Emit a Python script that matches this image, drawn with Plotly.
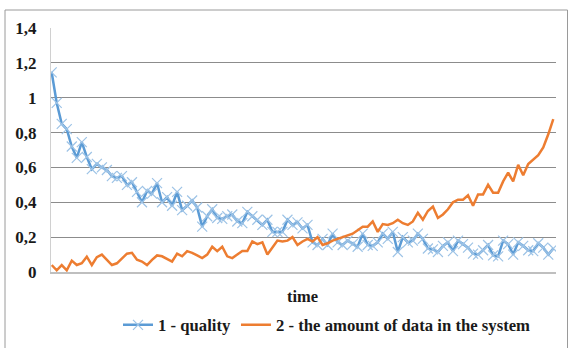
import plotly.graph_objects as go

# time steps (categories along the x axis)
time_steps = list(range(1, 102))

quality = [
    1.145, 0.97, 0.85, 0.82, 0.72, 0.655, 0.745, 0.66, 0.59, 0.62,
    0.60, 0.585, 0.55, 0.54, 0.55, 0.50, 0.515, 0.46, 0.40, 0.465,
    0.45, 0.51, 0.40, 0.43, 0.38, 0.46, 0.355, 0.38, 0.41, 0.37,
    0.26, 0.32, 0.36, 0.31, 0.305, 0.32, 0.33, 0.29, 0.28, 0.345,
    0.32, 0.30, 0.27, 0.30, 0.23, 0.23, 0.23, 0.30, 0.27, 0.285,
    0.25, 0.27, 0.17, 0.155, 0.19, 0.155, 0.22, 0.17, 0.155, 0.18,
    0.16, 0.145, 0.22, 0.155, 0.15, 0.17, 0.22, 0.19, 0.23, 0.115,
    0.20, 0.17, 0.18, 0.22, 0.19, 0.135, 0.13, 0.115, 0.15, 0.17,
    0.12, 0.18, 0.16, 0.14, 0.105, 0.10, 0.125, 0.155, 0.095, 0.09,
    0.18, 0.16, 0.10, 0.17, 0.15, 0.125, 0.12, 0.165, 0.14, 0.10,
    0.135,
]

data_amount = [
    0.04, 0.01, 0.04, 0.01, 0.065, 0.04, 0.05, 0.088, 0.04, 0.085,
    0.10, 0.07, 0.04, 0.05, 0.075, 0.105, 0.11, 0.07, 0.06, 0.04,
    0.07, 0.095, 0.09, 0.075, 0.06, 0.105, 0.09, 0.12, 0.11, 0.095,
    0.08, 0.10, 0.145, 0.12, 0.145, 0.09, 0.08, 0.10, 0.12, 0.12,
    0.175, 0.16, 0.17, 0.10, 0.14, 0.18, 0.175, 0.18, 0.20, 0.155,
    0.175, 0.19, 0.175, 0.20, 0.155, 0.165, 0.18, 0.19, 0.20, 0.21,
    0.22, 0.24, 0.26, 0.26, 0.29, 0.23, 0.275, 0.27, 0.28, 0.30,
    0.28, 0.27, 0.29, 0.34, 0.30, 0.35, 0.375, 0.31, 0.33, 0.36,
    0.40, 0.415, 0.415, 0.44, 0.38, 0.445, 0.445, 0.50, 0.455, 0.455,
    0.52, 0.57, 0.52, 0.615, 0.555, 0.62, 0.645, 0.67, 0.715, 0.79,
    0.877,
]

y_ticks = [0, 0.2, 0.4, 0.6, 0.8, 1, 1.2, 1.4]
series_names = ["1 - quality", "2 - the amount of data in the system"]
x_title = "time"

FONT = "Liberation Serif"

fig = go.Figure()
fig.add_trace(go.Scatter(
    x=time_steps, y=quality, name=series_names[0], mode="lines+markers",
    line=dict(color="#5b9bd5", width=2.5),
    marker=dict(symbol="x-thin", size=10, color="#9dc3e6",
                line=dict(width=1.2, color="#9dc3e6")),
))
fig.add_trace(go.Scatter(
    x=time_steps, y=data_amount, name=series_names[1], mode="lines",
    line=dict(color="#ed7d31", width=2.5),
))

W, H = 568, 348
ml, mr, mt, mb = 51, 12, 28, 76
pw, ph = W - ml - mr, H - mt - mb

def px_x(p):
    return (p - ml) / pw

def px_y(p):
    return (H - mb - p) / ph

fig.update_layout(
    width=W, height=H,
    margin=dict(l=ml, r=mr, t=mt, b=mb, pad=0, autoexpand=False),
    paper_bgcolor="white", plot_bgcolor="white",
    separators=", ",
    font=dict(family=FONT, size=16, color="#1a1a1a"),
    showlegend=True,
    legend=dict(orientation="h", x=px_x(118), xanchor="left",
                y=px_y(325), yanchor="middle",
                font=dict(family=FONT, size=16.7, color="#1a1a1a", weight="bold"),
                itemwidth=30, tracegroupgap=0, bgcolor="rgba(0,0,0,0)"),
    xaxis=dict(range=[0.86, 101.54], showticklabels=False, showgrid=False,
               zeroline=False, showline=True, linecolor="#bfbfbf", linewidth=2,
               ticks="", automargin=False),
    yaxis=dict(range=[0, 1.4], tickvals=y_ticks, showgrid=True,
               gridcolor="#8c8c8c", gridwidth=1, zeroline=False,
               showline=True, linecolor="#d0d0d0", linewidth=1,
               ticks="", ticklabelstandoff=10, automargin=False,
               tickfont=dict(family=FONT, size=17, color="#1a1a1a", weight="bold")),
    annotations=[dict(text="<b>" + x_title + "</b>", xref="paper", yref="paper",
                      x=px_x(302), y=px_y(296), xanchor="center", yanchor="middle",
                      showarrow=False, font=dict(family=FONT, size=16.5, color="#1a1a1a"))],
    shapes=[dict(type="rect", xref="paper", yref="paper",
                 x0=px_x(5), x1=px_x(567.5), y0=px_y(352), y1=px_y(10),
                 line=dict(color="#9a9a9a", width=1), layer="below")],
)

fig.write_html("out.html", config={"displayModeBar": False},
               post_script="document.body.style.margin='0';")
